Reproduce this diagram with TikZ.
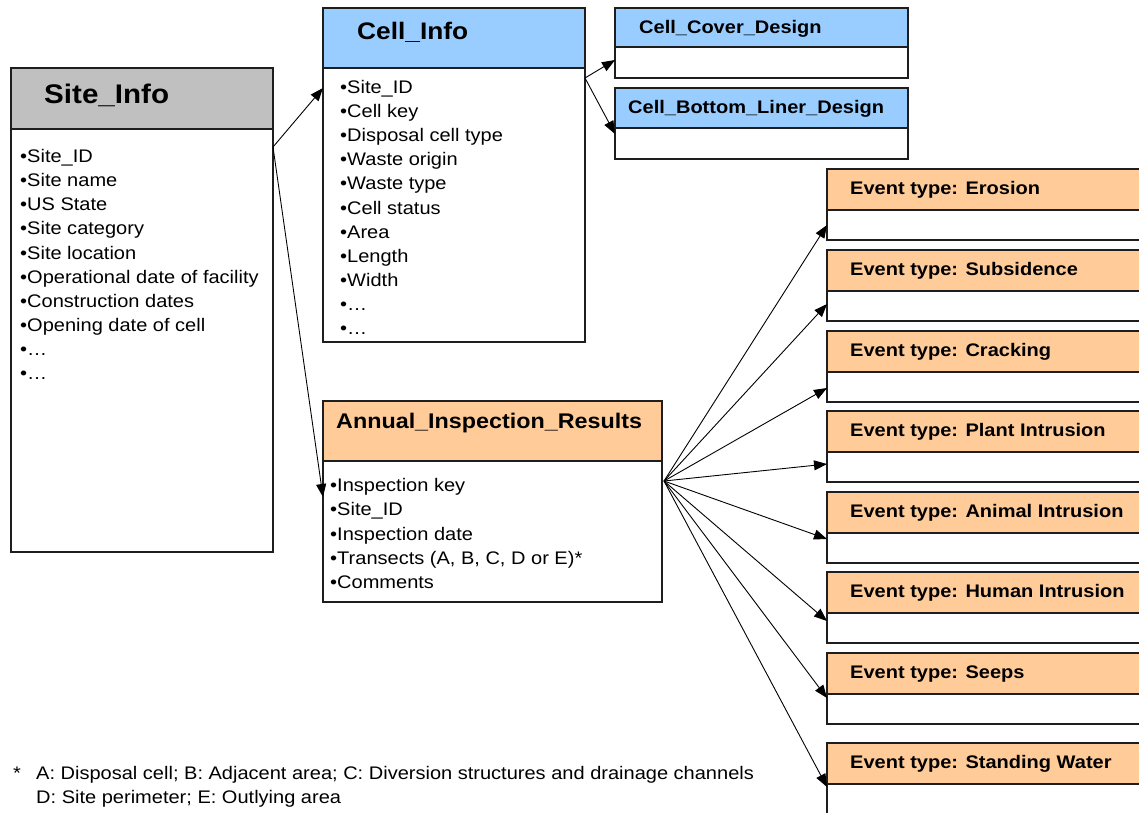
\documentclass[tikz,border=0pt]{standalone}
\usepackage{fontspec}
\setmainfont[FakeStretch=1.1]{Liberation Sans}
\usetikzlibrary{arrows.meta,calc}
\definecolor{hdrgray}{HTML}{C0C0C0}
\definecolor{hdrblue}{HTML}{99CCFF}
\definecolor{hdrorange}{HTML}{FFCC99}
\definecolor{edgecol}{HTML}{1E1E1E}

\begin{document}
\begin{tikzpicture}[x=1pt,y=-1pt,
  frame/.style={draw=edgecol, line width=1.3pt, anchor=north west, inner sep=0pt, outer sep=0pt},
  head/.style={frame, fill=#1},
  body/.style={frame, fill=white},
  item/.style={anchor=base west, inner sep=0pt, font=\fontsize{18.2}{22}\selectfont},
  title/.style={anchor=base west, inner sep=0pt, font=\bfseries\fontsize{#1}{#1}\selectfont},
  note/.style={anchor=base west, inner sep=0pt, font=\fontsize{18.2}{22}\selectfont},
  link/.style={line width=0.9pt, -{Triangle[length=13pt,width=10pt]}},
]
\clip (0,0) rectangle (1139,812);

% ---- Site_Info ----
\node[head=hdrgray, minimum width=262pt, minimum height=61pt] (siteH) at (11,68) {};
\node[body, minimum width=262pt, minimum height=423pt] (siteB) at (11,129) {};
\node[title=26.9] (siteT) at (44,103.3) {Site\_Info};
\foreach \t [count=\i from 0] in {Site\_ID, Site name, US State, Site category,
    Site location, Operational date of facility, Construction dates,
    Opening date of cell, …, …}
  \node[item] (sitei\i) at (20,{162.5+24.15*\i}) {•\t};

% ---- Cell_Info ----
\node[head=hdrblue, minimum width=262pt, minimum height=60pt] (cellH) at (323,8) {};
\node[body, minimum width=262pt, minimum height=274pt] (cellB) at (323,68) {};
\node[title=23.9] (cellT) at (357,39.5) {Cell\_Info};
\foreach \t [count=\i from 0] in {Site\_ID, Cell key, Disposal cell type, Waste origin,
    Waste type, Cell status, Area, Length, Width, …, …}
  \node[item] (celli\i) at (340,{93.3+24.15*\i}) {•\t};

% ---- Cell design tables ----
\node[head=hdrblue, minimum width=293pt, minimum height=39pt] (coverH) at (615,8) {};
\node[body, minimum width=293pt, minimum height=31pt] (coverB) at (615,47) {};
\node[title=18.2] (coverT) at (639,33.5) {Cell\_Cover\_Design};
\node[head=hdrblue, minimum width=293pt, minimum height=40pt] (bottomH) at (615,88) {};
\node[body, minimum width=293pt, minimum height=31pt] (bottomB) at (615,128) {};
\node[title=18.2] (bottomT) at (628,113.5) {Cell\_Bottom\_Liner\_Design};

% ---- Annual_Inspection_Results ----
\node[head=hdrorange, minimum width=339pt, minimum height=60pt] (annH) at (323,401) {};
\node[body, minimum width=339pt, minimum height=141pt] (annB) at (323,461) {};
\node[title=21.2] (annT) at (336,428.5) {Annual\_Inspection\_Results};
\foreach \t [count=\i from 0] in {Inspection key, Site\_ID, Inspection date,
    {Transects (A, B, C, D or E)*}, Comments}
  \node[item] (anni\i) at (330,{491.7+24.15*\i}) {•\t};

% ---- Event tables ----
\foreach \e/\top [count=\k] in {Erosion/169, Subsidence/250, Cracking/331,
    Plant Intrusion/411, Animal Intrusion/492, Human Intrusion/572,
    Seeps/653, Standing Water/743} {
  \node[head=hdrorange, minimum width=330pt, minimum height=41pt] (evH\k) at (827,\top) {};
  \node[body, minimum width=330pt, minimum height=30pt] (evB\k) at (827,\top+41) {};
  \node[title=18.2] (evT\k) at (850,\top+25.5) {Event type: \e};
}

% ---- Connectors ----
\coordinate (siteOut) at ($(siteB.north east)+(0,18)$);
\draw[link] (siteOut) -- ($(cellB.north west)+(0,20)$);
\draw[link] (siteOut) -- ($(annB.north west)+(0,36)$);
\coordinate (cellOut) at ($(cellB.north east)+(0,10)$);
\draw[link] (cellOut) -- ($(coverB.north west)+(0,13)$);
\draw[link] (cellOut) -- ($(bottomB.north west)+(0,6)$);
\coordinate (annOut) at ($(annB.north east)+(2,20)$);
\foreach \d [count=\k] in {15,13,16,12,6,8,4,3}
  \draw[link] (annOut) -- ($(evB\k.north west)+(0,\d)$);

% ---- Footnote ----
\node[note] (noteStar) at (13,779) {*};
\node[note] (noteA) at (36,779) {A: Disposal cell; B: Adjacent area; C: Diversion structures and drainage channels};
\node[note] (noteB) at (36,803) {D: Site perimeter; E: Outlying area};
\end{tikzpicture}
\end{document}
